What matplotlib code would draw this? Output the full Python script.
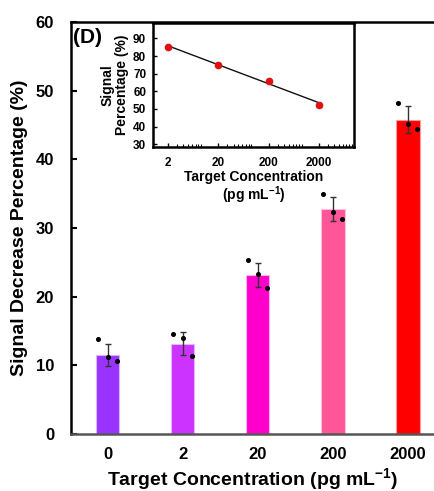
import numpy as np
import matplotlib
matplotlib.use("Agg")
import matplotlib.pyplot as plt
from matplotlib.ticker import LogLocator, FixedLocator, NullFormatter

plt.rcParams['font.family'] = ['Liberation Sans', 'DejaVu Sans']
plt.rcParams['font.weight'] = 'bold'
plt.rcParams['mathtext.fontset'] = 'custom'
plt.rcParams['mathtext.rm'] = 'Liberation Sans:bold'
plt.rcParams['mathtext.bf'] = 'Liberation Sans:bold'
plt.rcParams['mathtext.default'] = 'bf'

# bar chart: signal decrease vs target concentration
labels = ["0", "2", "20", "200", "2000"]
means = [11.5, 13.15, 23.15, 32.8, 45.8]
errs = [1.55, 1.65, 1.7, 1.7, 1.95]
rep_left = [13.8, 14.56, 25.4, 34.9, 48.2]
rep_mid = [11.26, 13.93, 23.3, 32.3, 45.1]
rep_right = [10.7, 11.36, 21.3, 31.3, 44.4]
colors = ["#9933FF", "#CC33FF", "#FF00CC", "#FF5599", "#FF0000"]
edges = ["#D9B3FF", "#E9B3FF", "#FFB3EE", "#FFC2D8", "#FF9999"]

# inset: calibration on log scale
conc = [2, 20, 200, 2000]
signal = [85.2, 75.2, 65.7, 52.5]
signal_err = [0.8, 0.8, 0.9, 0.8]

fig = plt.figure(figsize=(4.35, 4.91), dpi=100)
ax = fig.add_axes([0.163, 0.116, 0.837, 0.839])

x = np.arange(len(labels))
ax.bar(x, means, width=0.31, color=colors, edgecolor=edges, linewidth=0.8, zorder=2)
ax.errorbar(x, means, yerr=errs, fmt='none', ecolor='#333333', elinewidth=1.0,
            capsize=2.5, capthick=1.0, zorder=3)
ax.plot(x - 0.13, rep_left, 'o', color='black', ms=2.6, zorder=4)
ax.plot(x, rep_mid, 'o', color='black', ms=2.6, zorder=4)
ax.plot(x + 0.12, rep_right, 'o', color='black', ms=2.6, zorder=4)

ax.set_xlim(-0.49, 4.36)
ax.set_ylim(0, 60)
ax.set_yticks(range(0, 61, 10))
ax.set_xticks(x)
ax.set_xticklabels(labels)
ax.tick_params(axis='y', direction='in', length=4, width=1.5, pad=12, labelsize=12)
ax.tick_params(axis='x', length=0, pad=9, labelsize=12)
for lab in ax.get_xticklabels() + ax.get_yticklabels():
    lab.set_fontweight('bold')
ax.spines['right'].set_visible(False)
ax.spines['left'].set_linewidth(1.8)
ax.spines['top'].set_linewidth(1.8)
ax.spines['bottom'].set_linewidth(1.8)
ax.spines['bottom'].set_color('#555555')
ax.set_ylabel("Signal Decrease Percentage (%)", fontsize=14, fontweight='bold', labelpad=6)
ax.set_xlabel("Target Concentration (pg mL$^{-1}$)", fontsize=14, fontweight='bold', labelpad=3)
ax.text(0.005, 0.985, "(D)", transform=ax.transAxes, fontsize=15, fontweight='bold',
        ha='left', va='top')

# inset
ins = fig.add_axes([0.352, 0.701, 0.462, 0.253])
ins.set_xscale('log')
fit = np.polyfit(np.log10(conc), signal, 1)
ins.plot(conc, np.polyval(fit, np.log10(conc)), color='#111111', lw=1.0, zorder=2)
ins.errorbar(conc, signal, yerr=signal_err, fmt='o', color='#DD1111', ms=4.5,
             ecolor='#999999', elinewidth=0.8, capsize=1.5, zorder=3)
ins.set_xlim(1, 10000)
ins.set_ylim(28.5, 99)
ins.set_yticks(range(30, 91, 10))
ins.xaxis.set_major_locator(FixedLocator(conc))
ins.set_xticklabels([str(c) for c in conc])
ins.xaxis.set_minor_locator(LogLocator(base=10, subs=np.arange(2, 10)))
ins.xaxis.set_minor_formatter(NullFormatter())
ins.tick_params(axis='both', which='major', direction='in', length=3, width=1.0,
                labelsize=8.5)
ins.tick_params(axis='x', which='major', pad=7)
ins.tick_params(axis='x', which='minor', direction='in', length=2, width=0.8)
ins.tick_params(axis='y', pad=5)
for lab in ins.get_xticklabels() + ins.get_yticklabels():
    lab.set_fontweight('bold')
for s in ins.spines.values():
    s.set_linewidth(1.8)
ins.set_ylabel("Signal\nPercentage (%)", fontsize=10, fontweight='bold', labelpad=3,
               linespacing=1.0)
ins.set_xlabel("Target Concentration\n(pg mL$^{-1}$)", fontsize=10, fontweight='bold',
               labelpad=1, linespacing=1.0)

fig.savefig("out.png", dpi=100)
